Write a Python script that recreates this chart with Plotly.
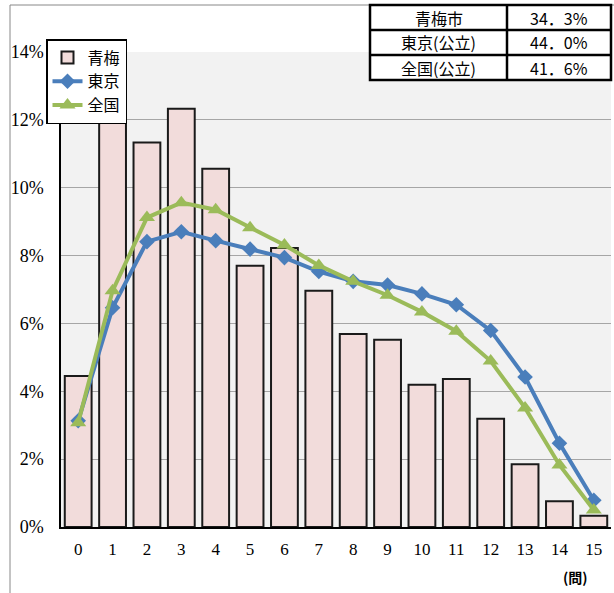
import plotly.graph_objects as go

categories = [str(i) for i in range(16)]
ome = [4.45, 12.8, 11.33, 12.33, 10.56, 7.70, 8.22, 6.96, 5.69, 5.52, 4.19, 4.36, 3.19, 1.85, 0.76, 0.33]
tokyo = [3.13, 6.46, 8.41, 8.70, 8.44, 8.19, 7.94, 7.53, 7.24, 7.13, 6.87, 6.55, 5.79, 4.42, 2.47, 0.79]
zenkoku = [3.07, 6.96, 9.12, 9.56, 9.35, 8.82, 8.31, 7.71, 7.24, 6.83, 6.34, 5.77, 4.89, 3.51, 1.83, 0.50]
yticks = [0, 2, 4, 6, 8, 10, 12, 14]
table_rows = [["青梅市", "34．3%"], ["東京(公立)", "44．0%"], ["全国(公立)", "41．6%"]]

W, H = 614, 593
L, R, T, B = 61, 3, 52, 66
PW, PH = W - L - R, H - T - B

def px(x):
    return (x - L) / PW

def py(y):
    return (H - B - y) / PH

fig = go.Figure()
fig.add_trace(go.Bar(x=categories, y=ome, name="青梅",
                     marker=dict(color="#f2dcdb", line=dict(color="#1a1a1a", width=2))))
fig.add_trace(go.Scatter(x=categories, y=tokyo, name="東京", mode="lines+markers",
                         line=dict(color="#4a7ebb", width=4),
                         marker=dict(symbol="diamond", size=12, color="#4a7ebb")))
fig.add_trace(go.Scatter(x=categories, y=zenkoku, name="全国", mode="lines+markers",
                         line=dict(color="#9bbb59", width=4),
                         marker=dict(symbol="triangle-up", size=14, color="#9bbb59")))

shapes = []
# outer frame
shapes.append(dict(type="rect", xref="paper", yref="paper", x0=px(10), x1=px(640),
                   y0=py(640), y1=py(5), line=dict(color="#888888", width=1), layer="below"))
# table
tx0, tx1, tmid = 370, 611, 507
ty0, rh = 5, 25
shapes.append(dict(type="rect", xref="paper", yref="paper", x0=px(tx0), x1=px(tx1),
                   y0=py(ty0 + 3 * rh), y1=py(ty0), line=dict(color="black", width=2.5),
                   fillcolor="white"))
for i in (1, 2):
    shapes.append(dict(type="line", xref="paper", yref="paper", x0=px(tx0), x1=px(tx1),
                       y0=py(ty0 + i * rh), y1=py(ty0 + i * rh), line=dict(color="black", width=2.5)))
shapes.append(dict(type="line", xref="paper", yref="paper", x0=px(tmid), x1=px(tmid),
                   y0=py(ty0), y1=py(ty0 + 3 * rh), line=dict(color="black", width=2.5)))

annotations = []
for i, (a, b) in enumerate(table_rows):
    yc = py(ty0 + (i + 0.5) * rh)
    annotations.append(dict(text=a, x=px((tx0 + tmid) / 2), y=yc, xref="paper", yref="paper",
                            xanchor="center", yanchor="middle",
                            showarrow=False, font=dict(family="Noto Sans CJK JP", size=16, color="black")))
    annotations.append(dict(text=b, x=px((tmid + tx1) / 2), y=yc, xref="paper", yref="paper",
                            xanchor="center", yanchor="middle",
                            showarrow=False, font=dict(family="Noto Sans CJK JP", size=16, color="black")))
annotations.append(dict(text="<b>(問)</b>", x=px(575), y=py(577), xref="paper", yref="paper",
                        xanchor="center", yanchor="middle",
                        showarrow=False, font=dict(family="Noto Sans CJK JP", size=14, color="black")))

fig.update_layout(
    width=W, height=H,
    margin=dict(l=L, r=R, t=T, b=B, autoexpand=False),
    paper_bgcolor="white", plot_bgcolor="#f2f2f2",
    bargap=0.22,
    shapes=shapes, annotations=annotations,
    legend=dict(x=px(46), y=py(39), xanchor="left", yanchor="top",
                bgcolor="white", bordercolor="black", borderwidth=1.5,
                font=dict(family="Noto Sans CJK JP", size=16, color="black"),
                tracegroupgap=0, itemwidth=30),
    xaxis=dict(type="category", showgrid=False, showline=True, linecolor="black", linewidth=1.5,
               ticks="", tickfont=dict(family="Liberation Serif", size=17, color="black"),
               ticklabelstandoff=6, range=[-0.5, 15.5]),
    yaxis=dict(range=[0, 14], tickvals=yticks, ticktext=[f"{v}%" for v in yticks],
               showgrid=True, gridcolor="#a6a6a6", gridwidth=1,
               showline=True, linecolor="black", linewidth=1.5, zeroline=False,
               ticks="", ticklabelstandoff=12,
               tickfont=dict(family="Liberation Serif", size=18, color="black")),
)

fig.write_html("out.html", config={"displayModeBar": False},
               post_script="document.body.style.margin='0';document.body.style.padding='0';")
